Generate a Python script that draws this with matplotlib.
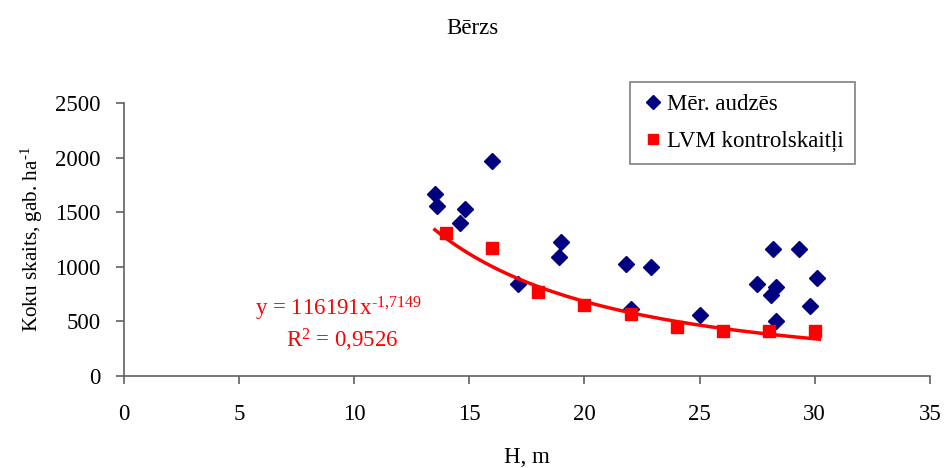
import numpy as np
import matplotlib
matplotlib.use('agg')
import matplotlib.pyplot as plt

plt.rcParams['font.family'] = ['Liberation Serif', 'DejaVu Serif']
plt.rcParams['mathtext.fontset'] = 'custom'
plt.rcParams['mathtext.rm'] = 'Liberation Serif'
plt.rcParams['mathtext.it'] = 'Liberation Serif'
plt.rcParams['mathtext.default'] = 'rm'

# measured stands (blue diamonds)
h_mer   = [13.5, 13.6, 14.6, 14.8, 16.0, 17.1, 18.9, 19.0, 21.8, 22.9, 22.0, 25.0,
           28.2, 29.3, 30.1, 27.5, 28.3, 28.1, 29.8, 28.3]
n_mer   = [1670, 1560, 1400, 1525, 1965, 845, 1085, 1230, 1030, 995, 615, 555,
           1160, 1160, 900, 845, 815, 740, 645, 500]

# LVM control values (red squares)
h_lvm   = [14, 16, 18, 20, 22, 24, 26, 28, 30]
n_lvm   = [1310, 1170, 770, 650, 565, 450, 415, 415, 415]

# power trendline shown on the chart
a_coef  = 116191
b_coef  = -1.7149
r2      = 0.9526
x_trend = [13.5, 30.2]

fs = 16.5
grey = '#606060'

fig = plt.figure(figsize=(9.44, 4.68), dpi=100)
ax = fig.add_axes([0.1314, 0.1966, 0.8536, 0.5834])

xt = np.linspace(x_trend[0], x_trend[1], 200)
ax.plot(xt, a_coef * xt**b_coef, color='#ff0000', lw=2.5, zorder=3)

ax.plot(h_mer, n_mer, 'D', color='#000080', ms=8.5, mec='#000080', ls='none',
        label='M\u0113r. audz\u0113s', zorder=2)
ax.plot(h_lvm, n_lvm, 's', color='#ff0000', ms=8.5, mec='#ff0000', ls='none',
        label='LVM kontrolskait\u013ci', zorder=4)

ax.set_xlim(0, 35)
ax.set_ylim(0, 2500)
ax.set_xticks(range(0, 36, 5))
ax.set_yticks(range(0, 2501, 500))
ax.tick_params(labelsize=fs, length=6, width=1.2, color=grey, direction='out')
ax.tick_params(axis='x', pad=14)
ax.tick_params(axis='y', pad=11)
for s in ['top', 'right']:
    ax.spines[s].set_visible(False)
for s in ['left', 'bottom']:
    ax.spines[s].set_color(grey)
    ax.spines[s].set_linewidth(1.2)

ax.set_xlabel('H, m', fontsize=fs, labelpad=16)
ax.set_ylabel(r'Koku skaits, gab. ha$^{\text{-1}}$', fontsize=15.2, labelpad=7)
fig.text(0.5, 0.94, 'B\u0113rzs', ha='center', va='center', fontsize=fs)

b_txt = str(b_coef).replace('.', ',')
r_txt = str(r2).replace('.', ',')
ax.text(9.3, 610, f'y = {a_coef}x$^{{\\text{{{b_txt}}}}}$',
        color='#ff0000', fontsize=fs, ha='center', va='center')
ax.text(9.5, 330, f'R$^{{2}}$ = {r_txt}',
        color='#ff0000', fontsize=fs, ha='center', va='center')

leg = ax.legend(loc='upper left', bbox_to_anchor=(0.628, 1.075), fontsize=fs,
                frameon=True, fancybox=False, edgecolor=grey,
                handletextpad=0.1, handlelength=1.0, borderpad=0.5,
                labelspacing=0.7, markerscale=0.8, borderaxespad=0)
leg.get_frame().set_linewidth(1.2)

fig.savefig('out.png', dpi=100)
